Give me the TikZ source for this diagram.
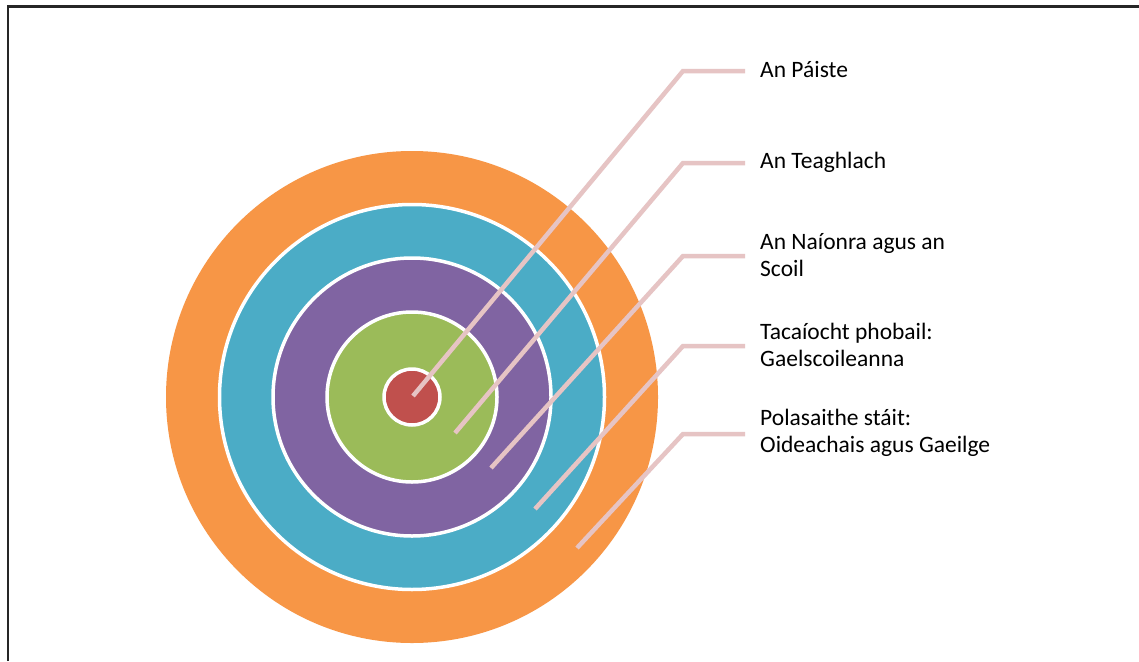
\documentclass[tikz,border=0pt]{standalone}
\usepackage{fontspec}
\setmainfont{Carlito}
\definecolor{cOrange}{HTML}{F79646}
\definecolor{cBlue}{HTML}{4BACC6}
\definecolor{cPurple}{HTML}{8064A2}
\definecolor{cGreen}{HTML}{9BBB59}
\definecolor{cRed}{HTML}{C0504D}
\definecolor{cLine}{HTML}{E6C4C4}
\begin{document}
\begin{tikzpicture}[x=1pt,y=-1pt,
  ring/.style={draw=white,line width=3.5pt},
  leader/.style={draw=cLine,line width=4.5pt},
  lbl/.style={anchor=west,align=left,inner sep=0pt,font=\fontsize{23.5}{27}\selectfont,text=black}]
\useasboundingbox (0,0) rectangle (1139,661);
\fill[white] (0,0) rectangle (1139,661);
\draw[line width=2.2pt,black!85] (8,661) -- (8,6.5) -- (1139,6.5);
\coordinate (c) at (412,397);
\fill[cOrange] (c) circle (246);
\draw[ring,fill=cBlue] (c) circle (192.5);
\draw[ring,fill=cPurple] (c) circle (139);
\draw[ring,fill=cGreen] (c) circle (85);
\draw[ring,fill=cRed] (c) circle (28);
% leader lines
\coordinate (s1) at (413,396);
\coordinate (s2) at (455,433);
\coordinate (s3) at (491,468);
\coordinate (s4) at (535,509);
\coordinate (s5) at (577,548);
\coordinate (e1) at (683,71);
\coordinate (e2) at (683,163);
\coordinate (e3) at (683,256);
\coordinate (e4) at (683,346);
\coordinate (e5) at (683,434);
\coordinate (t1) at (745,71);
\coordinate (t2) at (745,163);
\coordinate (t3) at (745,256);
\coordinate (t4) at (745,346);
\coordinate (t5) at (745,434);
\draw[leader] (s1) -- (e1) -- (t1);
\draw[leader] (s2) -- (e2) -- (t2);
\draw[leader] (s3) -- (e3) -- (t3);
\draw[leader] (s4) -- (e4) -- (t4);
\draw[leader] (s5) -- (e5) -- (t5);
\node[lbl] (l1) at (760,70) {An Páiste};
\node[lbl] (l2) at (760,162) {An Teaghlach};
\node[lbl] (l3) at (760,255) {An Naíonra agus an\\Scoil};
\node[lbl] (l4) at (760,345) {Tacaíocht phobail:\\Gaelscoileanna};
\node[lbl] (l5) at (760,433) {Polasaithe stáit:\\Oideachais agus Gaeilge};
\end{tikzpicture}
\end{document}
